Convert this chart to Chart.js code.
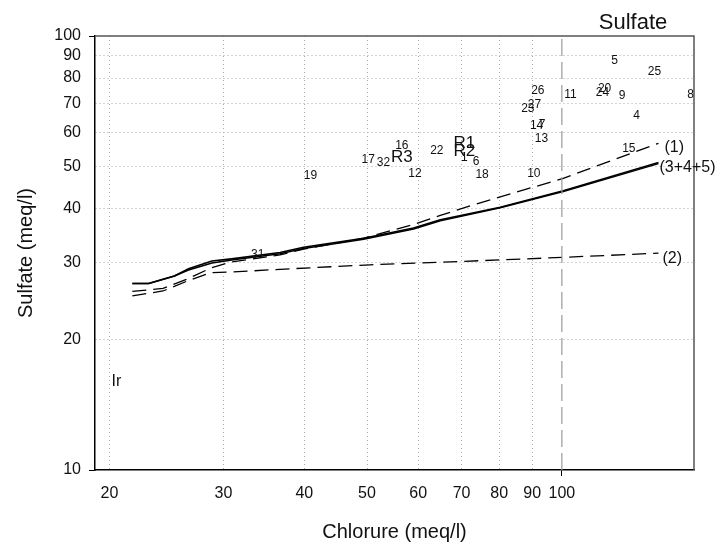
<!DOCTYPE html>
<html>
<head>
<meta charset="utf-8">
<script src="https://cdn.jsdelivr.net/npm/chart.js@4.4.0/dist/chart.umd.min.js"></script>
<style>
  body { margin: 0; background: #fff; }
  #wrap { width: 722px; height: 544px; position: relative; }
</style>
</head>
<body>
<div id="wrap"><canvas id="sulfateChart"></canvas></div>
<script>
// tick values of both log axes
const chlorureTicks = [20, 30, 40, 50, 60, 70, 80, 90, 100];
const sulfateTicks = [10, 20, 30, 40, 50, 60, 70, 80, 90, 100];

// mixing curves (Chlorure, Sulfate in meq/l)
const curve1Cl = [21.7, 24.2, 26.3, 28.7, 30.7, 36.7, 39.9, 49.4, 59.0, 64.9, 72.9, 100.5, 141];
const curve1So4 = [25.8, 26.2, 27.5, 29.2, 30.1, 31.3, 32.3, 34.2, 36.8, 38.6, 40.8, 47.0, 56.6];

const curve2Cl = [21.7, 24.2, 26.3, 28.7, 31.1, 36.7, 50.6, 81.1, 100.4, 141];
const curve2So4 = [25.2, 25.85, 27.2, 28.5, 28.6, 29.0, 29.7, 30.5, 30.9, 31.6];

const curve345Cl = [21.7, 23.0, 25.2, 26.5, 28.8, 31.1, 36.7, 39.9, 49.4, 59.0, 64.9, 80.3, 100.5, 141];
const curve345So4 = [26.9, 26.9, 28.0, 29.1, 30.3, 30.7, 31.7, 32.6, 34.2, 36.1, 37.7, 40.3, 44.0, 51.1];
const curve345bSo4 = [26.9, 26.9, 28.0, 28.9, 30.0, 30.5, 31.5, 32.4, 34.0, 35.9, 37.5, 40.2, 43.8, 50.8];

// samples
const sampleNames = ['5', '25', '26', '11', '20', '24', '9', '8', '27', '23', '4', '14', '7', '13', '15',
  '10', '18', '6', '1', 'R1', 'R2', '22', '16', 'R3', '17', '32', '12', '19', '31', 'Ir'];
const sampleCl = [120.6, 139.0, 91.8, 103.1, 116.4, 115.5, 123.9, 158, 90.7, 88.6, 130.4, 91.4, 93.2, 93.0, 126.9,
  90.5, 75.3, 73.7, 70.7, 70.7, 70.7, 64.1, 56.6, 56.6, 50.2, 53.0, 59.3, 40.9, 33.9, 20.5];
const sampleSo4 = [87.6, 82.6, 74.7, 73.1, 75.8, 74.0, 73.0, 73.4, 69.6, 67.9, 65.4, 62.1, 62.6, 58.0, 54.9,
  48.1, 47.8, 51.2, 52.3, 56.7, 54.1, 54.5, 55.8, 52.6, 51.8, 51.1, 48.1, 47.6, 31.3, 16.0];

// reference line at 100 meq/l
const refCl = [100, 100];
const refSo4 = [10, 100];

const toXY = (xs, ys) => xs.map((v, i) => ({x: v, y: ys[i]}));
const FONT = "'Liberation Sans', Arial, sans-serif";

const textPlugin = {
  id: 'textPlugin',
  afterDatasetsDraw(chart) {
    const {ctx, chartArea, scales: {x, y}} = chart;
    ctx.save();
    // frame top / right
    ctx.strokeStyle = '#555';
    ctx.lineWidth = 1.5;
    ctx.beginPath();
    ctx.moveTo(chartArea.left, chartArea.top);
    ctx.lineTo(chartArea.right, chartArea.top);
    ctx.lineTo(chartArea.right, chartArea.bottom);
    ctx.stroke();

    ctx.fillStyle = '#111';
    ctx.textAlign = 'center';
    ctx.textBaseline = 'middle';
    sampleNames.forEach((name, i) => {
      let size = 12;
      if (name[0] === 'R') size = 17;
      if (name === 'Ir') size = 16;
      ctx.font = size + 'px ' + FONT;
      ctx.fillText(name, x.getPixelForValue(sampleCl[i]), y.getPixelForValue(sampleSo4[i]));
    });

    // curve labels at the line ends
    ctx.textAlign = 'left';
    ctx.font = '16px ' + FONT;
    const ends = [
      ['(1)', curve1Cl, curve1So4, 6, 4],
      ['(3+4+5)', curve345Cl, curve345So4, 1, 5],
      ['(2)', curve2Cl, curve2So4, 4, 5]
    ];
    ends.forEach(([txt, xs, ys, dx, dy]) => {
      const n = xs.length - 1;
      ctx.fillText(txt, x.getPixelForValue(xs[n]) + dx, y.getPixelForValue(ys[n]) + dy);
    });

    // title
    ctx.textAlign = 'center';
    ctx.textBaseline = 'alphabetic';
    ctx.font = '22px ' + FONT;
    ctx.fillText('Sulfate', 633, 28.5);
    ctx.restore();
  }
};

const dotted = '#aaa';

new Chart(document.getElementById('sulfateChart'), {
  type: 'scatter',
  data: {
    datasets: [
      {data: toXY(refCl, refSo4), showLine: true, borderColor: '#999', borderWidth: 1.2, borderDash: [17, 6], pointRadius: 0},
      {data: toXY(curve2Cl, curve2So4), showLine: true, borderColor: '#000', borderWidth: 1.3, borderDash: [14, 7], pointRadius: 0},
      {data: toXY(curve1Cl, curve1So4), showLine: true, borderColor: '#000', borderWidth: 1.3, borderDash: [14, 7], pointRadius: 0},
      {data: toXY(curve345Cl, curve345bSo4), showLine: true, borderColor: '#000', borderWidth: 1.5, pointRadius: 0},
      {data: toXY(curve345Cl, curve345So4), showLine: true, borderColor: '#000', borderWidth: 1.6, pointRadius: 0}
    ]
  },
  options: {
    responsive: true,
    maintainAspectRatio: false,
    animation: false,
    layout: {padding: {top: 36, right: 28, left: 0, bottom: 0}},
    plugins: {legend: {display: false}, tooltip: {enabled: false}},
    scales: {
      x: {
        type: 'logarithmic',
        min: 19,
        max: 160,
        afterBuildTicks: (s) => { s.ticks = chlorureTicks.map(v => ({value: v})); },
        afterFit: (s) => { s.height = 74; },
        ticks: {
          autoSkip: false, maxRotation: 0, padding: 8, color: '#111',
          font: {family: FONT, size: 16},
          callback: (v) => String(v)
        },
        grid: {
          color: (c) => (c.tick && c.tick.value === 100) ? 'transparent' : dotted,
          lineWidth: 1,
          tickLength: 6,
          tickColor: (c) => (c.tick && c.tick.value === 100) ? '#000' : 'transparent'
        },
        border: {color: '#000', width: 1.5, dash: [1, 3]},
        title: {display: true, text: 'Chlorure (meq/l)', color: '#111', font: {family: FONT, size: 20}, padding: {top: 0, bottom: 0}}
      },
      y: {
        type: 'logarithmic',
        min: 10,
        max: 100,
        afterBuildTicks: (s) => { s.ticks = sulfateTicks.map(v => ({value: v})); },
        afterFit: (s) => { s.width = 95; },
        ticks: {
          autoSkip: false, padding: 8, color: '#111',
          font: {family: FONT, size: 16},
          callback: (v) => String(v)
        },
        grid: {
          color: (c) => (c.tick && (c.tick.value === 100 || c.tick.value === 10)) ? 'transparent' : dotted,
          lineWidth: 1,
          tickLength: 6,
          tickColor: (c) => (c.tick && (c.tick.value === 100 || c.tick.value === 10)) ? '#000' : 'transparent'
        },
        border: {color: '#000', width: 1.5, dash: [1, 3]},
        title: {display: true, text: 'Sulfate (meq/l)', color: '#111', font: {family: FONT, size: 20}, padding: {top: 14, bottom: 0}}
      }
    }
  },
  plugins: [textPlugin]
});
</script>
</body>
</html>
